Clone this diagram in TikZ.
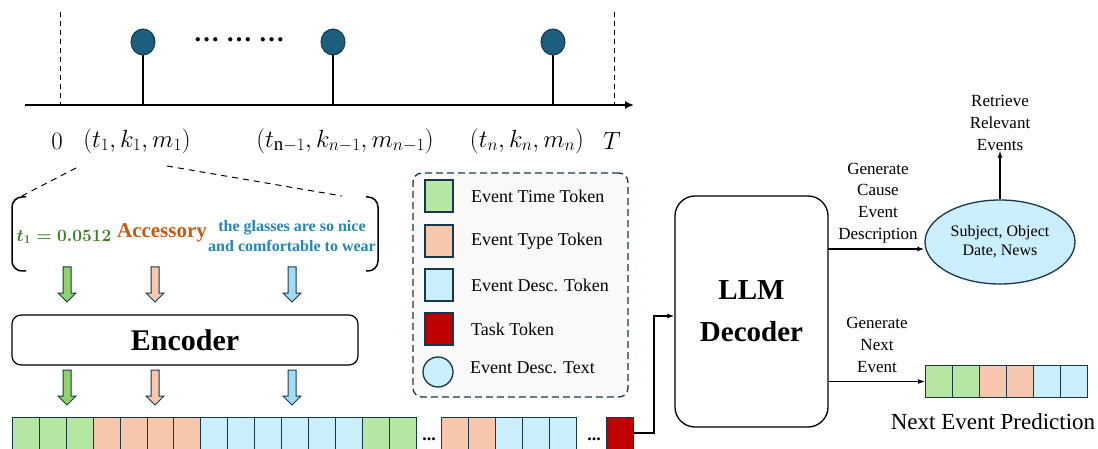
\documentclass[tikz,border=0pt]{standalone}
\usepackage{amsmath}
\usepackage{fontspec}
\setmainfont{Liberation Serif}
\usepackage{tikz}
\usetikzlibrary{positioning, shapes.geometric, arrows.meta}

\definecolor{navy}{HTML}{163848}
\definecolor{evblue}{HTML}{1C5E7E}
\definecolor{tg}{HTML}{B5E6A2}
\definecolor{to}{HTML}{F6C6AD}
\definecolor{tb}{HTML}{CAEEFB}
\definecolor{tr}{HTML}{C00000}
\definecolor{ag}{HTML}{8ED46A}
\definecolor{ab}{HTML}{A3DAF4}
\definecolor{txg}{HTML}{3B7D23}
\definecolor{txo}{HTML}{C55A11}
\definecolor{txb}{HTML}{2286B8}
\definecolor{legbg}{HTML}{F9F9F9}

\begin{document}
\begin{tikzpicture}[
          x=1pt, y=-1pt,
          tok/.style={draw=navy, line width=1pt, fill=#1, minimum width=26.9pt, minimum height=32pt, inner sep=0pt, anchor=north west},
          ev/.style={ellipse, draw=navy, line width=1pt, fill=evblue, minimum width=24pt, minimum height=26pt, inner sep=0pt},
          lab/.style={font=\fontsize{27}{30}\selectfont, inner sep=0pt},
          legtxt/.style={font=\fontsize{18}{22}\selectfont, anchor=west, inner sep=0pt},
          side/.style={font=\fontsize{17}{21.7}\selectfont, align=center, inner sep=0pt},
          conn/.style={line width=1.2pt, -{Latex[length=7pt,width=5pt]}},
          pics/blk/.style={code={\draw[line width=1pt, draw=navy, fill=#1] (-4,0) -- (4,0) -- (4,26) -- (9,26) -- (0,35) -- (-9,26) -- (-4,26) -- cycle;}}
        ]
        \useasboundingbox (0,0) rectangle (1098,449);
        % timeline
        \coordinate (ax0) at (25,105);
        \coordinate (ax1) at (634,105);
        \draw[dashed, line width=1pt, dash pattern=on 5pt off 4pt] (60,12) -- (60,105);
        \draw[dashed, line width=1pt, dash pattern=on 5pt off 4pt] (614,12) -- (614,105);
        \draw[line width=2pt, -{Latex[length=9pt,width=8pt]}] (ax0) -- (ax1);
        \foreach\x [count=\i] in {143,333,553}{
          \node[ev] (ev\i) at (\x,42) {};
          \draw[line width=1.6pt] (ev\i.south) -- (ev\i.south |- ax0);
        }
        \node[font=\fontsize{26}{30}\selectfont\bfseries] (dots) at (239,40) {\dots\ \dots\ \dots};
        \node[lab] (l0) at (57,141) {$0$};
        \node[lab] (l1) at (137,141) {$(t_1, k_1, m_1)$};
        \node[lab] (l2) at (345,141) {$(t_{\mathrm{n}-1}, k_{n-1}, m_{n-1})$};
        \node[lab] (l3) at (527,141) {$(t_n, k_n, m_n)$};
        \node[lab] (lT) at (612,141) {$T$};
        % zoom of the first event
        \coordinate (zl0) at (76,168);
        \coordinate (zl1) at (14,200);
        \coordinate (zr0) at (167,166);
        \coordinate (zr1) at (342,196);
        \draw[dashed, line width=1pt, dash pattern=on 6pt off 5pt] (zl0) -- (zl1);
        \draw[dashed, line width=1pt, dash pattern=on 6pt off 5pt] (zr0) -- (zr1);
        \draw[line width=1.5pt, rounded corners=10pt] (26,197) -- (12,197) -- (12,271) -- (26,271);
        \draw[line width=1.5pt, rounded corners=10pt] (366,197) -- (378,197) -- (378,271) -- (366,271);
        \node[text=txg, font=\fontsize{17}{20}\selectfont] (tm) at (64,237) {$\boldsymbol{t_1 = 0.0512}$};
        \node[text=txo, font=\fontsize{21}{24}\selectfont\bfseries] (ty) at (162,233) {Accessory};
        \node[text=txb, font=\fontsize{16}{20}\selectfont\bfseries, align=center, inner sep=0pt] (ds) at (292,236) {the glasses are so nice\\and comfortable to wear};
        \foreach\x/\c in {67/ag,155/to,292/ab}{
          \pic at (\x,267) {blk=\c};
          \pic at (\x,370) {blk=\c};
        }
        \node[draw, line width=1.2pt, rounded corners=9pt, minimum width=346pt, minimum height=50pt, font=\fontsize{30}{34}\selectfont\bfseries] (enc) at (185,340) {Encoder};
        % token sequence
        \foreach\c [count=\i] in {tg,tg,tg,to,to,to,to,tb,tb,tb,tb,tb,tb,tg,tg}{
          \node[tok=\c, minimum height=34pt] (c\i) at ({12+(\i-1)*26.9},417) {};
        }
        \foreach\c [count=\i] in {to,to,tb,tb,tb}{
          \node[tok=\c, minimum height=34pt] (d\i) at ({441+(\i-1)*26.9},417) {};
        }
        \node[tok=tr, minimum height=34pt] (r) at (606,417) {};
        \node[font=\fontsize{18}{20}\selectfont\bfseries, inner sep=0pt] (g1) at (429,439) {...};
        \node[font=\fontsize{18}{20}\selectfont\bfseries, inner sep=0pt] (g2) at (594,439) {...};
        % legend
        \node[draw=navy, fill=legbg, line width=1.3pt, dash pattern=on 7pt off 4pt, rounded corners=9pt, minimum width=215pt, minimum height=224pt] (leg) at (520.5,285) {};
        \foreach\c/\t/\y [count=\i] in {tg/Event Time Token/196, to/Event Type Token/241, tb/Event Desc. Token/285, tr/Task Token/329}{
          \node[draw=navy, line width=1.3pt, fill=\c, minimum width=28pt, minimum height=32pt, inner sep=0pt] (k\i) at (439,\y) {};
          \node[legtxt] (kt\i) at (471,\y) {\t};
        }
        \node[circle, draw=navy, line width=1.3pt, fill=tb, minimum size=30pt, inner sep=0pt] (k5) at (438,372) {};
        \node[legtxt] (kt5) at (470,368) {Event Desc. Text};
        % decoder and outputs
        \node[draw, line width=1.3pt, rounded corners=20pt, minimum width=153pt, minimum height=231pt, align=center, font=\fontsize{29}{42}\selectfont\bfseries] (dec) at (751.5,311.5) {LLM\\Decoder};
        \coordinate (turn) at (654,316);
        \draw[conn] (r.east |- 0,433) -| (turn) -- (turn -| dec.west);
        \node[ellipse, draw=navy, line width=1.3pt, fill=tb, minimum width=150pt, minimum height=84pt, align=center, font=\fontsize{16}{19}\selectfont] (ell) at (1000,242) {Subject, Object\\Date, News};
        \node[side] (ret) at (1000,123) {Retrieve\\Relevant\\Events};
        \draw[conn] (ell.north) -- (ret.south);
        \coordinate (s1) at (828,249);
        \draw[conn] (s1) -- (s1 -| ell.west);
        \node[side] (gc) at (878,203) {Generate\\Cause\\Event\\Description};
        \foreach\c [count=\i] in {tg,tg,to,to,tb,tb}{
          \node[tok=\c] (p\i) at ({925+(\i-1)*27},365) {};
        }
        \draw[conn] (dec.east |- p1.west) -- (p1.west);
        \node[side] (gn) at (877,345) {Generate\\Next\\Event};
        \node[font=\fontsize{23}{26}\selectfont, inner sep=0pt] (np) at (993,422) {Next Event Prediction};
      \end{tikzpicture}
\end{document}
